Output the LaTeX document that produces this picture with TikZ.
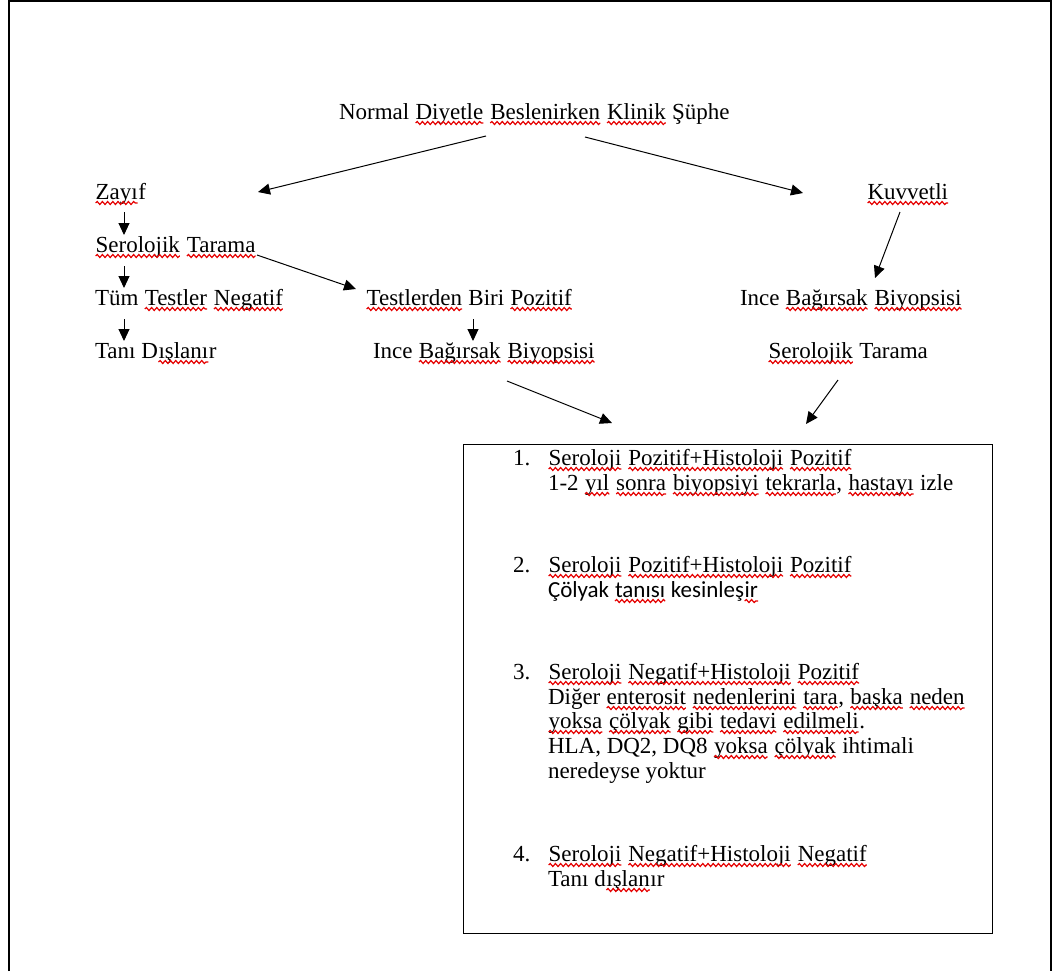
\documentclass[tikz,border=0pt]{standalone}
\usepackage{fontspec}
\setmainfont{Liberation Serif}
\newfontfamily\calfont{Carlito}
\usetikzlibrary{arrows.meta,decorations.pathmorphing}
\tikzset{
 txt/.style={anchor=base west,inner sep=0pt,outer sep=0pt,font=\fontsize{11.5}{13}\selectfont},
 arr/.style={-{Triangle[length=6pt,width=5.5pt]},line width=0.5pt},
 sqline/.style={draw=red!90!black,line width=0.6pt,decorate,decoration={snake,amplitude=0.75pt,segment length=2.6pt}},
 frameline/.style={line width=1pt},
 resbox/.style={draw,line width=0.6pt,inner sep=0pt,anchor=north west},
}
\newcommand\sq[1]{\tikz[baseline=(w.base)]{\node[inner sep=0pt,outer sep=0pt,anchor=base](w){#1};\draw[sqline]([yshift=-2pt]w.base west)--([yshift=-2pt]w.base east);}}
\begin{document}
\begin{tikzpicture}[x=0.5pt,y=-0.5pt]
\useasboundingbox (0,0) rectangle (1054,971);
\draw[frameline] (9,971) -- (9,1) -- (1051,1) -- (1051,971);

% top
\node[txt] (title) at (339,119) {Normal \sq{Diyetle} \sq{Beslenirken} \sq{Klinik} Şüphe};
% left column
\node[txt] (zayif) at (95,199) {\sq{Zayı}f};
\node[txt] (serL) at (95,252) {\sq{Serolojik} \sq{Tarama}};
\node[txt] (tum) at (95,305) {Tüm \sq{Testler} \sq{Negatif}};
\node[txt] (tani) at (95,358) {Tanı D\sq{ışlanı}r};
% middle column
\node[txt] (biri) at (366,305) {\sq{Testlerden} Biri \sq{Pozitif}};
\node[txt] (inceM) at (373,358) {Ince \sq{Bağırsak} \sq{Biyopsisi}};
% right column
\node[txt] (kuv) at (867,199) {\sq{Kuvvetli}};
\node[txt] (inceR) at (740,305) {Ince \sq{Bağırsak} \sq{Biyopsisi}};
\node[txt] (serR) at (768,358) {\sq{Serolojik} Tarama};

% result box
\node[resbox,minimum width=264.5pt,minimum height=244.5pt] (box) at (463,444) {};
\node[txt] (n1) at (513,465) {1.};
\node[txt] (r1a) at (548,465) {\sq{Seroloji} \sq{Pozitif+Histoloji} \sq{Pozitif}};
\node[txt] (r1b) at (548,490) {1-2 \sq{yıl} \sq{sonra} \sq{biyopsiyi} \sq{tekrarla}, \sq{hastayı} izle};
\node[txt] (n2) at (513,572) {2.};
\node[txt] (r2a) at (548,572) {\sq{Seroloji} \sq{Pozitif+Histoloji} \sq{Pozitif}};
\node[txt,font=\fontsize{11.5}{13}\calfont] (r2b) at (548,597) {Çölyak \sq{tanısı} kesinleş\sq{ir}};
\node[txt] (n3) at (513,679) {3.};
\node[txt] (r3a) at (548,679) {\sq{Seroloji} \sq{Negatif+Histoloji} \sq{Pozitif}};
\node[txt] (r3b) at (548,704) {Diğer \sq{enterosit} \sq{nedenlerini} \sq{tara}, \sq{başka} \sq{neden}};
\node[txt] (r3c) at (548,728) {\sq{yoksa} \sq{çölyak} \sq{gibi} \sq{tedavi} \sq{edilmeli}.};
\node[txt] (r3d) at (548,753) {HLA, DQ2, DQ8 \sq{yoksa} \sq{çölyak} ihtimali};
\node[txt] (r3e) at (548,778) {neredeyse yoktur};
\node[txt] (n4) at (513,861) {4.};
\node[txt] (r4a) at (548,861) {\sq{Seroloji} \sq{Negatif+Histoloji} \sq{Negatif}};
\node[txt] (r4b) at (548,886) {Tanı d\sq{ışlan}ır};

% arrow end points
\coordinate (a1s) at (486,136); \coordinate (a1e) at (258,192);
\coordinate (a2s) at (585,137); \coordinate (a2e) at (803,193);
\coordinate (a3s) at (124,212); \coordinate (a3e) at (124,235);
\coordinate (a4s) at (124,266); \coordinate (a4e) at (124,288);
\coordinate (a5s) at (124,319); \coordinate (a5e) at (124,341);
\coordinate (a6s) at (257,255); \coordinate (a6e) at (356,289);
\coordinate (a7s) at (473,319); \coordinate (a7e) at (473,341);
\coordinate (a8s) at (900,212); \coordinate (a8e) at (875,278);
\coordinate (a9s) at (507,381); \coordinate (a9e) at (612,423);
\coordinate (a10s) at (838,380); \coordinate (a10e) at (806,424);

\draw[arr] (a1s) -- (a1e);
\draw[arr] (a2s) -- (a2e);
\draw[arr] (a3s) -- (a3e);
\draw[arr] (a4s) -- (a4e);
\draw[arr] (a5s) -- (a5e);
\draw[arr] (a6s) -- (a6e);
\draw[arr] (a7s) -- (a7e);
\draw[arr] (a8s) -- (a8e);
\draw[arr] (a9s) -- (a9e);
\draw[arr] (a10s) -- (a10e);
\end{tikzpicture}
\end{document}
